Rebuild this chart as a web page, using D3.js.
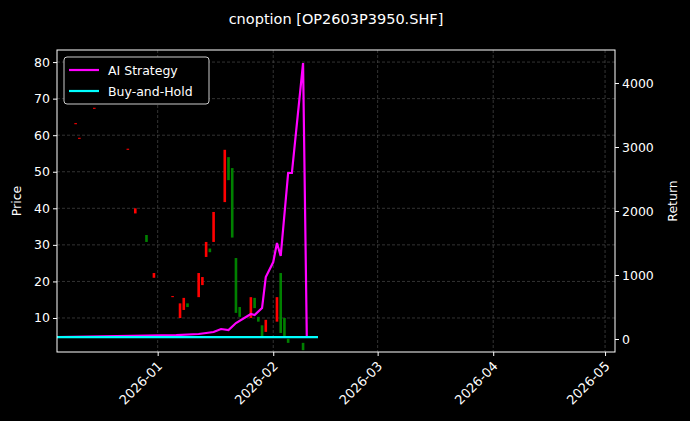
<!DOCTYPE html>
<html><head><meta charset="utf-8">
<script src="https://cdn.jsdelivr.net/npm/d3@7"></script>
<style>body{margin:0;background:#000}svg{display:block}text{font-family:"DejaVu Sans",sans-serif;fill:#fff}</style>
</head><body><svg id="c" width="690" height="421"></svg>
<script>
const title = "cnoption [OP2603P3950.SHF]";
const candleDates = ["2025-12-10","2025-12-11","2025-12-15","2025-12-24","2025-12-26","2025-12-29","2025-12-31","2026-01-05","2026-01-07","2026-01-08","2026-01-09","2026-01-12","2026-01-13","2026-01-14","2026-01-15","2026-01-16","2026-01-19","2026-01-20","2026-01-21","2026-01-22","2026-01-23","2026-01-26","2026-01-27","2026-01-28","2026-01-29","2026-01-30","2026-02-02","2026-02-03","2026-02-04","2026-02-05","2026-02-09"];
const opens  = [63,59,67.2,56,38.6,32.7,21,15.7,10,12.2,14,15.7,19,26.7,29,30.8,41.7,54,51,26.4,13,10,15.5,10.3,8,6.2,9,22.3,10,4.3,3.2];
const closes = [63.3,59.3,67.5,56.3,40,30.8,22.3,16,14,15.5,13,22.3,21.2,30.8,28,39,56,47.7,32,11.4,10.3,15.7,12.7,9,4.8,9.5,15.7,5.9,4.8,3.2,1.2];
const retDates = ["2025-12-05","2026-01-06","2026-01-12","2026-01-16","2026-01-18","2026-01-20","2026-01-22","2026-01-26","2026-01-27","2026-01-29","2026-01-30","2026-02-01","2026-02-02","2026-02-03","2026-02-05","2026-02-06","2026-02-09","2026-02-10"];
const aiReturn = [31,62,78,109,156,140,250,390,375,484,969,1203,1500,1297,2594,2594,4312,31];
const bhDates = ["2025-12-05","2026-02-13"];
const bhReturn = [31,31];
const priceTicks = [10,20,30,40,50,60,70,80];
const returnTicks = [0,1000,2000,3000,4000];
const dateTicks = ["2026-01-01","2026-02-01","2026-03-01","2026-04-01","2026-05-01"];

const P = d3.timeParse("%Y-%m-%d");
const svg = d3.select("#c");
const L=57,R=615,T=50,B=352;
const x = d3.scaleTime().domain([P("2025-12-05"), new Date(2026,4,3,16)]).range([L,R]);
const y = d3.scaleLinear().domain([0.7,83.3]).range([B,T]);
const y2 = d3.scaleLinear().domain([-203,4516]).range([B,T]);

svg.append("text").attr("x",336).attr("y",24).attr("text-anchor","middle").attr("font-size",14.5).text(title);

const g = svg.append("g");
g.selectAll(".gy").data(priceTicks).join("line").attr("x1",L).attr("x2",R).attr("y1",d=>y(d)).attr("y2",d=>y(d)).attr("stroke","#555").attr("stroke-dasharray","3,2").attr("stroke-width",0.6);
g.selectAll(".gx").data(dateTicks).join("line").attr("x1",d=>x(P(d))).attr("x2",d=>x(P(d))).attr("y1",T).attr("y2",B).attr("stroke","#555").attr("stroke-dasharray","3,2").attr("stroke-width",0.6);

g.selectAll(".cd").data(candleDates).join("rect")
 .attr("x",(d)=>x(P(d))-1.3).attr("width",2.6)
 .attr("y",(d,i)=>y(Math.max(opens[i],closes[i])))
 .attr("height",(d,i)=>Math.max(1,Math.abs(y(opens[i])-y(closes[i]))))
 .attr("fill",(d,i)=>closes[i]>=opens[i]?"#ff0000":"#008000");

const line = d3.line().x(d=>x(d[0])).y(d=>y2(d[1]));
g.append("path").datum(retDates.map((d,i)=>[P(d),aiReturn[i]])).attr("d",line).attr("fill","none").attr("stroke","#ff00ff").attr("stroke-width",2.2);
g.append("path").datum(bhDates.map((d,i)=>[P(d),bhReturn[i]])).attr("d",line).attr("fill","none").attr("stroke","#00ffff").attr("stroke-width",2.2);

const ax = svg.append("g").attr("transform",`translate(0,${B})`).call(d3.axisBottom(x).tickValues(dateTicks.map(P)).tickFormat(d3.timeFormat("%Y-%m")).tickSize(4));
ax.selectAll("text").attr("font-size",13).attr("text-anchor","end").attr("x",0).attr("y",0).attr("dy",0).attr("transform","translate(5,15) rotate(-45)");
const ay = svg.append("g").attr("transform",`translate(${L},0)`).call(d3.axisLeft(y).tickValues(priceTicks).tickSize(4));
ay.selectAll("text").attr("font-size",12.5);
const ay2 = svg.append("g").attr("transform",`translate(${R},0)`).call(d3.axisRight(y2).tickValues(returnTicks).tickFormat(d3.format("d")).tickSize(4));
ay2.selectAll("text").attr("font-size",12.5);
svg.selectAll(".domain").remove();
svg.selectAll(".tick line").attr("stroke","#fff");
svg.append("rect").attr("x",L).attr("y",T).attr("width",R-L).attr("height",B-T).attr("fill","none").attr("stroke","#fff").attr("stroke-width",1);

svg.append("text").attr("transform","translate(21,201) rotate(-90)").attr("text-anchor","middle").attr("font-size",12.5).text("Price");
svg.append("text").attr("transform","translate(677,201) rotate(-90)").attr("text-anchor","middle").attr("font-size",12.5).text("Return");

const lg = svg.append("g");
lg.append("rect").attr("x",64).attr("y",57).attr("width",145).attr("height",47).attr("rx",3).attr("fill","#000").attr("stroke","#ccc").attr("stroke-width",1);
[["AI Strategy","#ff00ff"],["Buy-and-Hold","#00ffff"]].forEach((d,i)=>{
  lg.append("line").attr("x1",69).attr("x2",99).attr("y1",70+i*21).attr("y2",70+i*21).attr("stroke",d[1]).attr("stroke-width",2.2);
  lg.append("text").attr("x",108).attr("y",74.5+i*21).attr("font-size",12.5).text(d[0]);
});
</script></body></html>
